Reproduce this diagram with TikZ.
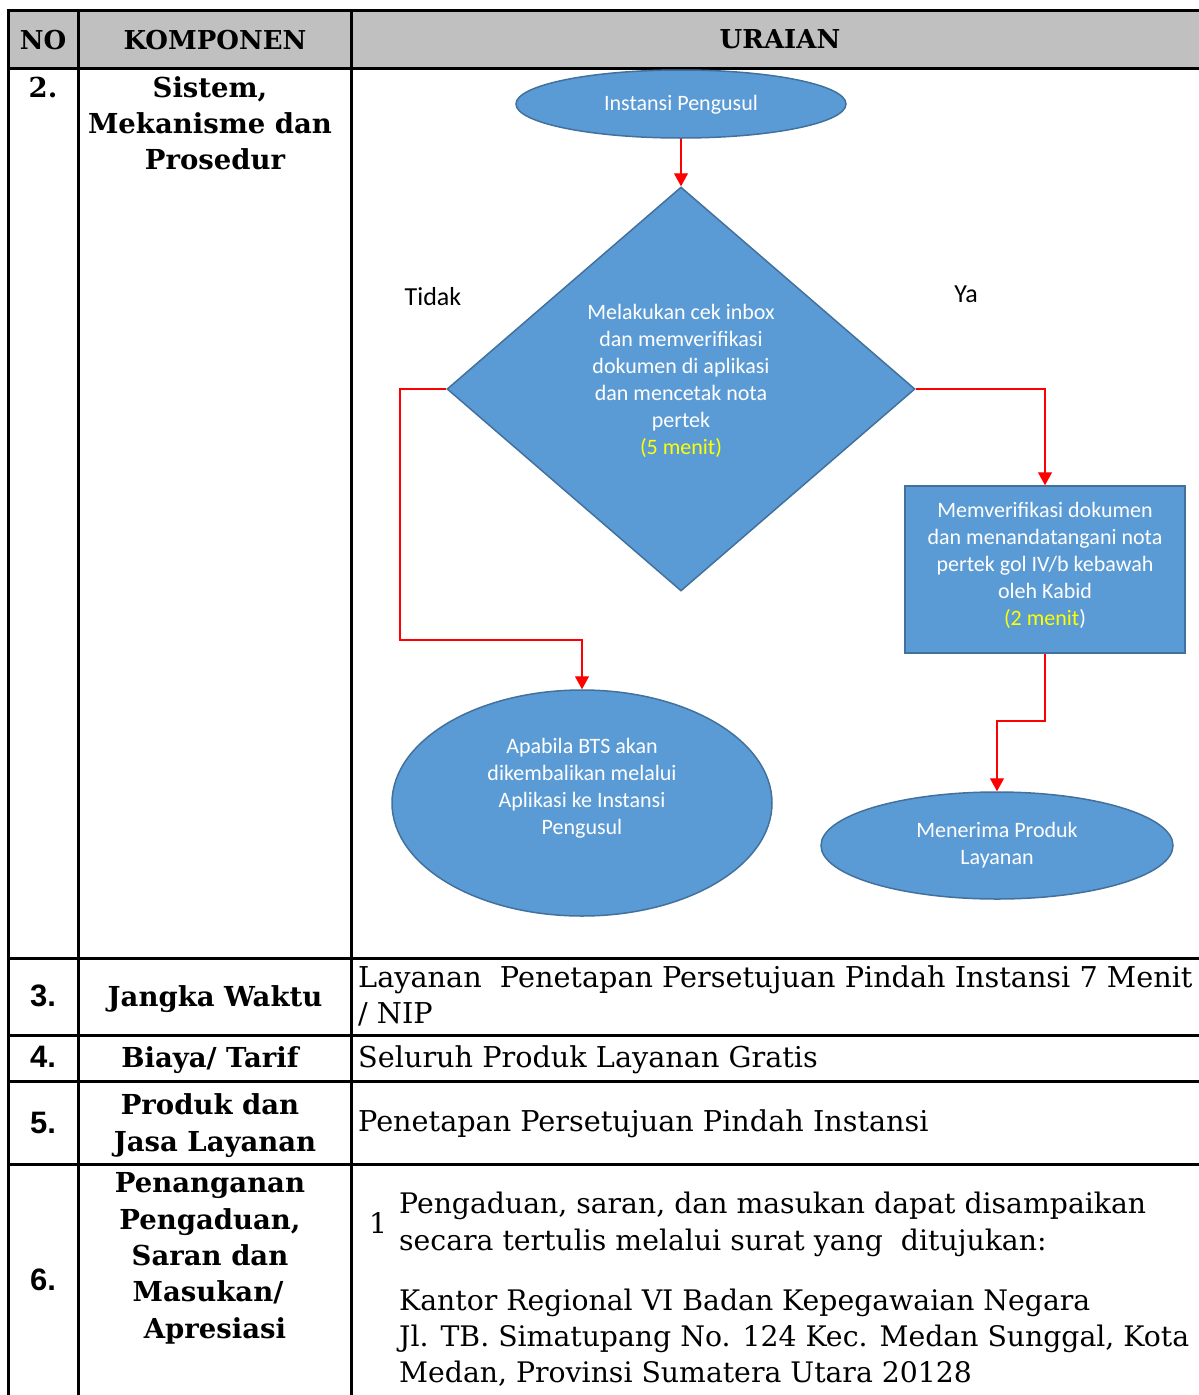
\documentclass[tikz,border=0pt]{standalone}
\usepackage{fontspec}
\setmainfont{DejaVu Serif}
\newfontfamily\flowfont{Carlito}
\newfontfamily\numfont{Liberation Sans}
\usetikzlibrary{shapes.geometric,arrows.meta}
\definecolor{shapefill}{HTML}{5B9BD5}
\definecolor{shapeline}{HTML}{41719C}
\definecolor{hdrgray}{HTML}{C0C0C0}
\definecolor{minyellow}{HTML}{FFFF00}
\begin{document}
\begin{tikzpicture}[x=1pt,y=-1pt,
  gridline/.style={line width=3pt, black},
  hdrtext/.style={font=\fontsize{26}{36}\selectfont\bfseries, anchor=mid, inner sep=0pt},
  numtext/.style={font=\numfont\fontsize{31}{36}\selectfont\bfseries, anchor=mid, inner sep=0pt},
  comptext/.style={font=\fontsize{27.5}{36}\selectfont\bfseries, anchor=mid, inner sep=0pt},
  bodytext/.style={font=\fontsize{28.7}{36}\selectfont, anchor=mid west, inner sep=0pt},
  bodysmall/.style={font=\fontsize{28.3}{36}\selectfont, anchor=mid west, inner sep=0pt},
  flowshape/.style={fill=shapefill, draw=shapeline, line width=1.5pt, inner sep=0pt},
  flowtext/.style={font=\flowfont\fontsize{22}{27}\selectfont, text=white, align=center, inner sep=0pt},
  branchtext/.style={font=\flowfont\fontsize{26}{30}\selectfont, text=black, inner sep=0pt, anchor=mid},
  flowarrow/.style={draw=red, line width=1.3pt, -{Triangle[length=13pt,width=14pt]}}
]
\useasboundingbox (0,0) rectangle (1199,1395);
% header background
\fill[hdrgray] (8,10) rectangle (1199,68);
% grid
\draw[gridline] (1199,10) -- (8,10) -- (8,1395);
\draw[gridline] (78,10) -- (78,1395);
\draw[gridline] (351,10) -- (351,1395);
\foreach \yy in {68,958,1035,1081,1164} \draw[gridline] (8,\yy) -- (1199,\yy);

% header texts
\node[hdrtext] (hno) at (43,47) {NO};
\node[hdrtext] (hkomp) at (215,47) {KOMPONEN};
\node[hdrtext] (hur) at (780,46) {URAIAN};

% row 2
\node[comptext] (n2) at (43,95) {2.};
\node[comptext] (c2a) at (210,95) {Sistem,};
\node[comptext] (c2b) at (210,131) {Mekanisme dan};
\node[comptext] (c2c) at (215,167) {Prosedur};

% row 3
\node[numtext] (n3) at (43,1004) {3.};
\node[comptext] (c3) at (215,1004) {Jangka Waktu};
\node[bodytext] (u3a) at (358,985) {Layanan\ \ Penetapan Persetujuan Pindah Instansi 7 Menit};
\node[bodytext] (u3b) at (358,1021) {/ NIP};

% row 4
\node[numtext] (n4) at (43,1065) {4.};
\node[comptext] (c4) at (210,1065) {Biaya/ Tarif};
\node[bodytext] (u4) at (358,1065) {Seluruh Produk Layanan Gratis};

% row 5
\node[numtext] (n5) at (43,1131) {5.};
\node[comptext] (c5a) at (210,1112) {Produk dan};
\node[comptext] (c5b) at (215,1149) {Jasa Layanan};
\node[bodytext] (u5) at (358,1129) {Penetapan Persetujuan Pindah Instansi};

% row 6
\node[numtext] (n6) at (43,1288) {6.};
\node[comptext] (c6a) at (210,1190) {Penanganan};
\node[comptext] (c6b) at (210,1227) {Pengaduan,};
\node[comptext] (c6c) at (210,1263) {Saran dan};
\node[comptext] (c6d) at (208,1299) {Masukan/};
\node[comptext] (c6e) at (215,1336) {Apresiasi};
\node[bodysmall, anchor=mid] (u6n) at (378,1231) {1};
\node[bodysmall] (u6a) at (399,1211) {Pengaduan, saran, dan masukan dapat disampaikan};
\node[bodysmall] (u6b) at (399,1248) {secara tertulis melalui surat yang\ \ ditujukan:};
\node[bodysmall] (u6c) at (399,1308) {Kantor Regional VI Badan Kepegawaian Negara};
\node[bodysmall] (u6d) at (399,1344) {Jl. TB. Simatupang No. 124 Kec. Medan Sunggal, Kota};
\node[bodysmall] (u6e) at (399,1380) {Medan, Provinsi Sumatera Utara 20128};

% flowchart shapes
\node[flowshape, ellipse, minimum width=330pt, minimum height=68pt] (inst) at (681,104) {};
\node[flowtext] (insttext) at (681,105) {Instansi Pengusul};

\node[flowshape, diamond, minimum width=468pt, minimum height=404pt] (dia) at (681,389) {};
\node[flowtext] (diatext) at (681,380.5) {Melakukan cek inbox\\dan memverifikasi\\dokumen di aplikasi\\dan mencetak nota\\pertek\\\textcolor{minyellow}{(5 menit)}};

\node[flowshape, rectangle, minimum width=280pt, minimum height=167pt] (verif) at (1045,569.5) {};
\node[flowtext] (veriftext) at (1045,565.5) {Memverifikasi dokumen\\dan menandatangani nota\\pertek gol IV/b kebawah\\oleh Kabid\\\textcolor{minyellow}{(2 menit})};

\node[flowshape, ellipse, minimum width=380pt, minimum height=226pt] (bts) at (582,803) {};
\node[flowtext] (btstext) at (582,788.5) {Apabila BTS akan\\dikembalikan melalui\\Aplikasi ke Instansi\\Pengusul};

\node[flowshape, ellipse, minimum width=352pt, minimum height=107pt] (terima) at (997,845.5) {};
\node[flowtext] (terimatext) at (997,845.5) {Menerima Produk\\Layanan};

% branch labels
\node[branchtext] (tidak) at (433,303) {Tidak};
\node[branchtext] (ya) at (966,300) {Ya};

% connectors
\coordinate (l1) at (400,389);
\coordinate (l2) at (400,640);
\coordinate (r1) at (1045,721);
\draw[flowarrow] (inst.south) -- (dia.north);
\draw[flowarrow] (dia.west) -- (l1) -- (l2) -| (bts.north);
\draw[flowarrow] (dia.east) -| (verif.north);
\draw[flowarrow] (verif.south) -- (r1) -| (terima.north);
\end{tikzpicture}
\end{document}
